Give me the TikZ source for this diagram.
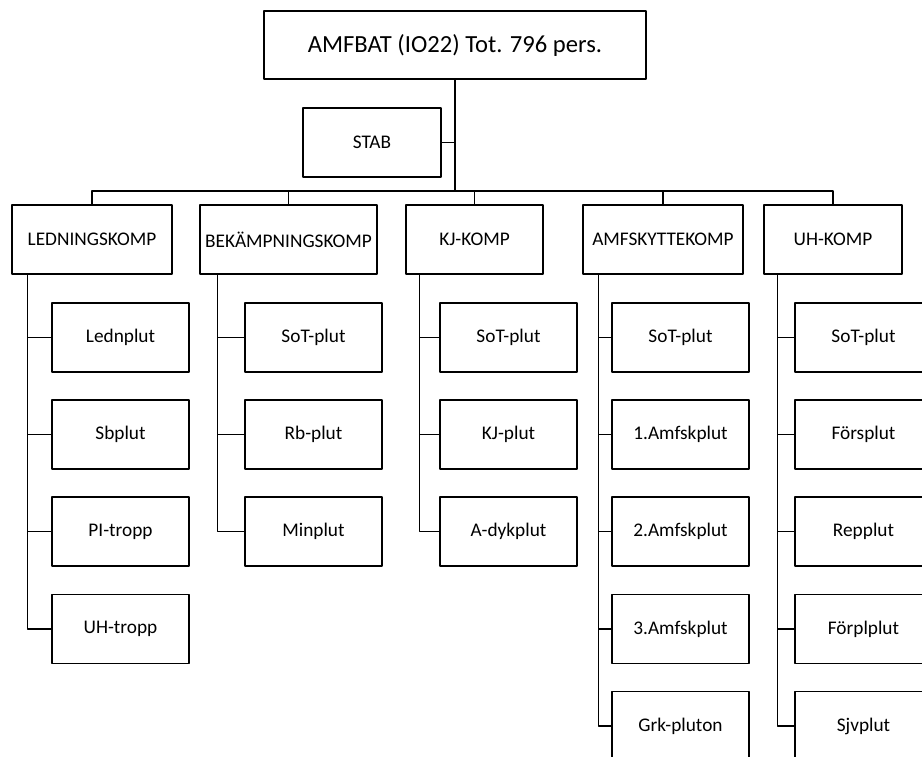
\documentclass[tikz,border=0pt]{standalone}
\usepackage{fontspec}
\setmainfont{Carlito}
\usepackage{tikz}
\usetikzlibrary{positioning}
\tikzset{
  unit/.style={draw,line width=1.3pt,inner sep=0pt,minimum height=69pt,font=\fontsize{19.3}{22}\selectfont},
  komp/.style={unit},
  plut/.style={unit,minimum width=137pt},
  link/.style={line width=1.4pt},
}

\begin{document}
\begin{tikzpicture}[x=1pt,y=-1pt,line join=round]
\useasboundingbox (0,0) rectangle (922,756);
% --- top and staff
\node[unit,minimum width=382pt,minimum height=68pt,font=\fontsize{24.6}{28}\selectfont] (bat) at (455,45) {AMFBAT (IO22) Tot. 796 pers.};
\node[unit,minimum width=138pt] (stab) at (372,142.5) {STAB};
\coordinate (bus) at (455,191);
\draw[link] (bat.south) -- (bus);
\draw[link] (stab.east) -- (stab.east -| bus);
% --- companies
\node[komp,minimum width=160pt] (led) at (92,239.5) {LEDNINGSKOMP};
\node[komp,minimum width=177pt] (bek) at (288.5,239.5) {BEKÄMPNINGSKOMP};
\node[komp,minimum width=137pt] (kj) at (474.5,239.5) {KJ-KOMP};
\node[komp,minimum width=160pt] (amf) at (663,239.5) {AMFSKYTTEKOMP};
\node[komp,minimum width=138pt] (uh) at (833,239.5) {UH-KOMP};
\foreach \k in {led,bek,kj,amf,uh}
  \draw[link] (\k.north) |- (bus);
% --- platoons, LEDNINGSKOMP
\node[plut] (led1) at (120.5,337.5) {Lednplut};
\node[plut] (led2) at (120.5,434.5) {Sbplut};
\node[plut] (led3) at (120.5,531.5) {PI-tropp};
\node[plut] (led4) at (120.5,629) {UH-tropp};
% --- BEKÄMPNINGSKOMP
\node[plut] (bek1) at (313.5,337.5) {SoT-plut};
\node[plut] (bek2) at (313.5,434.5) {Rb-plut};
\node[plut] (bek3) at (313.5,531.5) {Minplut};
% --- KJ-KOMP
\node[plut] (kj1) at (508.5,337.5) {SoT-plut};
\node[plut] (kj2) at (508.5,434.5) {KJ-plut};
\node[plut] (kj3) at (508.5,531.5) {A-dykplut};
% --- AMFSKYTTEKOMP
\node[plut] (amf1) at (680.5,337.5) {SoT-plut};
\node[plut] (amf2) at (680.5,434.5) {1.Amfskplut};
\node[plut] (amf3) at (680.5,531.5) {2.Amfskplut};
\node[plut] (amf4) at (680.5,629) {3.Amfskplut};
\node[plut] (amf5) at (680.5,726) {Grk-pluton};
% --- UH-KOMP
\node[plut] (uh1) at (863.5,337.5) {SoT-plut};
\node[plut] (uh2) at (863.5,434.5) {Försplut};
\node[plut] (uh3) at (863.5,531.5) {Repplut};
\node[plut] (uh4) at (863.5,629) {Förplplut};
\node[plut] (uh5) at (863.5,726) {Sjvplut};
% --- trunks
\coordinate (ledt) at ([xshift=16pt]led.south west);
\coordinate (bekt) at ([xshift=18pt]bek.south west);
\coordinate (kjt) at ([xshift=14pt]kj.south west);
\coordinate (amft) at ([xshift=16pt]amf.south west);
\coordinate (uht) at ([xshift=14pt]uh.south west);
\foreach \i in {1,...,4} \draw[link] (ledt) |- (led\i.west);
\foreach \i in {1,2,3} \draw[link] (bekt) |- (bek\i.west);
\foreach \i in {1,2,3} \draw[link] (kjt) |- (kj\i.west);
\foreach \i in {1,...,5} \draw[link] (amft) |- (amf\i.west);
\foreach \i in {1,...,5} \draw[link] (uht) |- (uh\i.west);
\end{tikzpicture}
\end{document}
